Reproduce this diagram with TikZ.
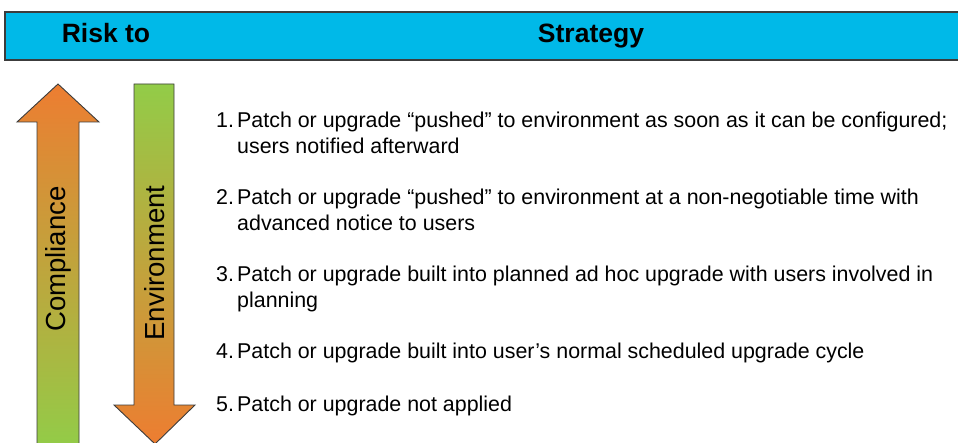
\documentclass[tikz,border=0pt]{standalone}
\usepackage{fontspec}
\setmainfont{Liberation Sans}
\usetikzlibrary{positioning}
\definecolor{barcyan}{RGB}{0,185,232}
\definecolor{arroworange}{RGB}{237,125,49}
\definecolor{arrowgreen}{RGB}{146,204,72}
\definecolor{edgegray}{RGB}{60,60,60}
\tikzset{
  headtext/.style={font=\bfseries\fontsize{26.5}{30}\selectfont, anchor=base},
  itemnum/.style={font=\fontsize{21.4}{26}\selectfont, anchor=base west, inner sep=0pt},
  itemtext/.style={font=\fontsize{21.4}{26}\selectfont, anchor=base west, inner sep=0pt, align=left},
  arrowtext/.style={font=\fontsize{27.6}{30}\selectfont, rotate=90, inner sep=0pt},
  bigarrow/.style={draw=edgegray, line width=0.9pt, line join=miter},
}
\begin{document}
\begin{tikzpicture}[x=1pt, y=-1pt]
  \useasboundingbox (0,0) rectangle (958,443);

  % header bar
  \draw[fill=barcyan, draw=edgegray, line width=1.5pt] (5,12) rectangle (965,60);
  \node[headtext] (risk)     at (106,43) {Risk to};
  \node[headtext] (strategy) at (591,43) {Strategy};

  % risk arrows
  \shade[bigarrow, top color=arroworange, bottom color=arrowgreen]
    (58,84) -- (99,122) -- (79,122) -- (79,448) -- (37,448) -- (37,122) -- (17,122) -- cycle;
  \shade[bigarrow, top color=arrowgreen, bottom color=arroworange]
    (134,84) -- (174,84) -- (174,405) -- (195,405) -- (155,444) -- (114,405) -- (134,405) -- cycle;
  \node[arrowtext] (compliance)  at (58,259)  {Compliance};
  \node[arrowtext] (environment) at (155,263) {Environment};

  % strategies (two-line items sit on the baseline of their last line)
  \node[itemnum]  (n1) at (216,128) {1.};
  \node[itemtext] (t1) at (237,154) {Patch or upgrade “pushed” to environment as soon as it can be configured;\\users notified afterward};
  \node[itemnum]  (n2) at (216,205) {2.};
  \node[itemtext] (t2) at (237,231) {Patch or upgrade “pushed” to environment at a non-negotiable time with\\advanced notice to users};
  \node[itemnum]  (n3) at (216,282) {3.};
  \node[itemtext] (t3) at (237,308) {Patch or upgrade built into planned ad hoc upgrade with users involved in\\planning};
  \node[itemnum]  (n4) at (216,359) {4.};
  \node[itemtext] (t4) at (237,359) {Patch or upgrade built into user’s normal scheduled upgrade cycle};
  \node[itemnum]  (n5) at (216,411) {5.};
  \node[itemtext] (t5) at (237,411) {Patch or upgrade not applied};
\end{tikzpicture}
\end{document}
